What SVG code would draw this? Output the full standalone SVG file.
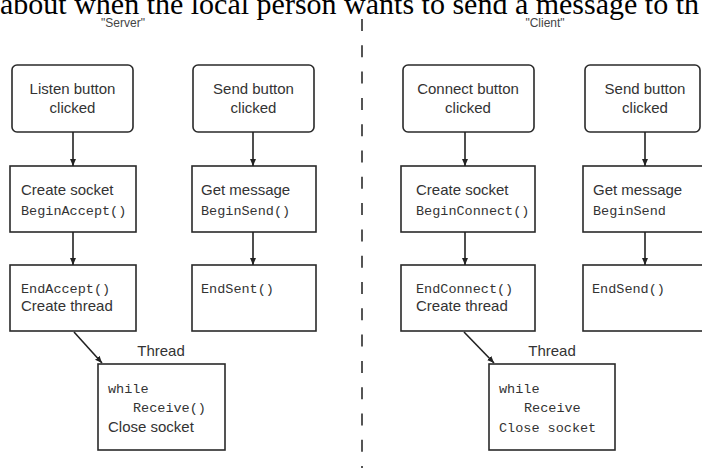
<svg xmlns="http://www.w3.org/2000/svg" width="702" height="468" viewBox="0 0 702 468">
  <style>
    .box { fill: #fff; stroke: #2a2a2a; stroke-width: 1.6; }
    .sans { font-family: "Liberation Sans", Arial, sans-serif; font-size: 15px; fill: #333; }
    .mono { font-family: "Liberation Mono", "Courier New", monospace; font-size: 13.5px; fill: #333; }
    .head { font-family: "Liberation Sans", Arial, sans-serif; font-size: 12px; fill: #444; }
    .c { text-anchor: middle; }
    .conn { stroke: #222; stroke-width: 1.6; fill: none; marker-end: url(#ah); }
  </style>
  <defs>
    <marker id="ah" markerUnits="userSpaceOnUse" markerWidth="8" markerHeight="8" refX="7" refY="4" orient="auto">
      <path d="M0,1 L7,4 L0,7 Z" fill="#222"/>
    </marker>
  </defs>
  <rect x="0" y="0" width="702" height="468" fill="#fff"/>

  <text x="0" y="14" font-family="Liberation Serif, 'Times New Roman', serif" font-size="30" fill="#000">about when the local person wants to send a message to th</text>

  <text class="head c" x="123" y="27">"Server"</text>
  <text class="head c" x="545" y="27">"Client"</text>

  <line x1="362" y1="19" x2="362" y2="468" stroke="#555" stroke-width="2" stroke-dasharray="12 14.3"/>

  <g id="listen">
    <rect class="box" x="12" y="65" width="121" height="67" rx="5"/>
    <text class="sans c" x="72.5" y="94">Listen button</text>
    <text class="sans c" x="72.5" y="113">clicked</text>
  </g>
  <g id="send-server">
    <rect class="box" x="193" y="65" width="121" height="67" rx="5"/>
    <text class="sans c" x="253.5" y="94">Send button</text>
    <text class="sans c" x="253.5" y="113">clicked</text>
  </g>
  <g id="create-socket-server">
    <rect class="box" x="10" y="166" width="126" height="66"/>
    <text class="sans" x="21" y="195">Create socket</text>
    <text class="mono" x="21" y="215">BeginAccept()</text>
  </g>
  <g id="get-message-server">
    <rect class="box" x="192" y="166" width="124" height="66"/>
    <text class="sans" x="201" y="195">Get message</text>
    <text class="mono" x="201" y="215">BeginSend()</text>
  </g>
  <g id="end-accept">
    <rect class="box" x="10" y="265" width="126" height="66"/>
    <text class="mono" x="21" y="293">EndAccept()</text>
    <text class="sans" x="21" y="311">Create thread</text>
  </g>
  <g id="end-sent">
    <rect class="box" x="192" y="265" width="124" height="66"/>
    <text class="mono" x="201" y="293">EndSent()</text>
  </g>
  <g id="thread-server">
    <text class="sans c" x="161" y="356">Thread</text>
    <rect class="box" x="98" y="364" width="127" height="86"/>
    <text class="mono" x="108" y="393">while</text>
    <text class="mono" x="133" y="412">Receive()</text>
    <text class="sans" x="108" y="432">Close socket</text>
  </g>

  <g id="connect">
    <rect class="box" x="403" y="65" width="131" height="67" rx="5"/>
    <text class="sans c" x="468" y="94">Connect button</text>
    <text class="sans c" x="468" y="113">clicked</text>
  </g>
  <g id="send-client">
    <rect class="box" x="585" y="65" width="115" height="67" rx="5"/>
    <text class="sans c" x="645" y="94">Send button</text>
    <text class="sans c" x="645" y="113">clicked</text>
  </g>
  <g id="create-socket-client">
    <rect class="box" x="401" y="166" width="134" height="66"/>
    <text class="sans" x="416" y="195">Create socket</text>
    <text class="mono" x="416" y="215">BeginConnect()</text>
  </g>
  <g id="get-message-client">
    <rect class="box" x="583" y="166" width="130" height="66"/>
    <text class="sans" x="593" y="195">Get message</text>
    <text class="mono" x="593" y="215">BeginSend</text>
  </g>
  <g id="end-connect">
    <rect class="box" x="401" y="265" width="134" height="66"/>
    <text class="mono" x="416" y="293">EndConnect()</text>
    <text class="sans" x="416" y="311">Create thread</text>
  </g>
  <g id="end-send">
    <rect class="box" x="583" y="265" width="130" height="66"/>
    <text class="mono" x="592" y="293">EndSend()</text>
  </g>
  <g id="thread-client">
    <text class="sans c" x="552" y="356">Thread</text>
    <rect class="box" x="489" y="364" width="126" height="86"/>
    <text class="mono" x="499" y="393">while</text>
    <text class="mono" x="524" y="412">Receive</text>
    <text class="mono" x="499" y="432">Close socket</text>
  </g>

  <g id="connectors">
    <line class="conn" x1="73" y1="132" x2="73" y2="166"/>
    <line class="conn" x1="73" y1="232" x2="73" y2="265"/>
    <line class="conn" x1="253" y1="132" x2="253" y2="166"/>
    <line class="conn" x1="253" y1="232" x2="253" y2="265"/>
    <line class="conn" x1="74" y1="332" x2="102" y2="363"/>
    <line class="conn" x1="465" y1="132" x2="465" y2="166"/>
    <line class="conn" x1="465" y1="232" x2="465" y2="265"/>
    <line class="conn" x1="645" y1="132" x2="645" y2="166"/>
    <line class="conn" x1="645" y1="232" x2="645" y2="265"/>
    <line class="conn" x1="464" y1="332" x2="494" y2="363"/>
  </g>
</svg>
